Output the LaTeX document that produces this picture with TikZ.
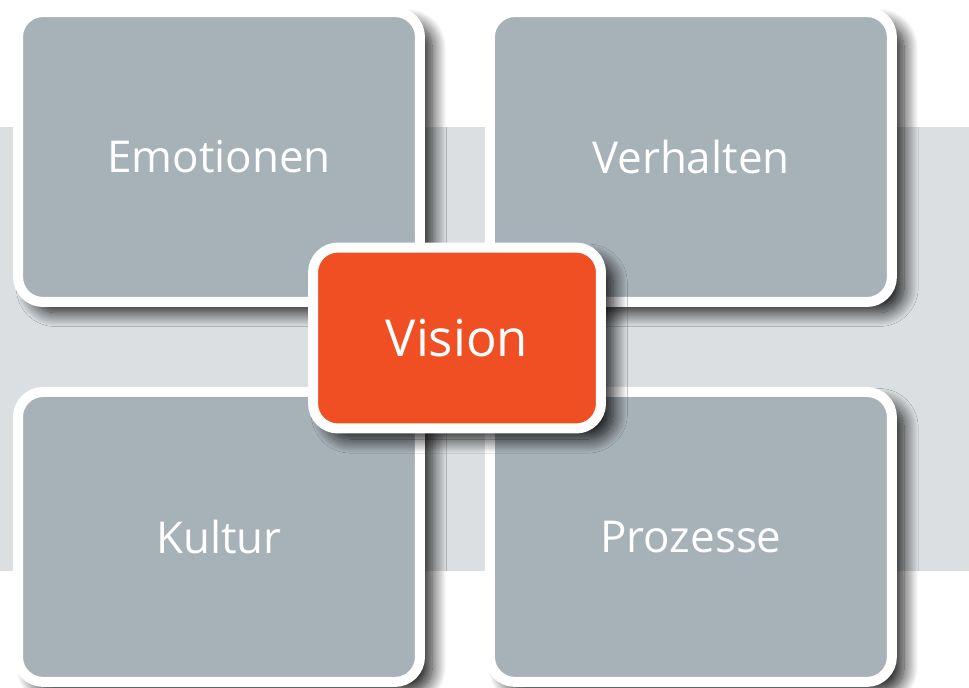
\documentclass[tikz,border=0pt]{standalone}
\usepackage{fontspec}
\setmainfont{Open Sans}
\usetikzlibrary{positioning}
\usetikzlibrary{shadows.blur}

\definecolor{bandgray}{RGB}{219,223,226}
\definecolor{fieldgray}{RGB}{167,177,184}
\definecolor{visionred}{RGB}{240,78,35}

\begin{document}
\begin{tikzpicture}[x=0.02cm, y=-0.02cm]
    \tikzstyle{field}=[draw=white, line width=0.2cm, fill=fieldgray, rounded corners=0.5cm,
      minimum width=8.04cm, minimum height=5.8cm, inner sep=0pt, text=white,
      font=\fontsize{25}{25}\selectfont,
      blur shadow={shadow xshift=7pt, shadow yshift=-6pt, shadow blur radius=8pt,
        shadow blur steps=20, shadow opacity=90}]
    \tikzstyle{core}=[field, fill=visionred, minimum width=5.76cm, minimum height=3.62cm,
      font=\fontsize{29}{29}\selectfont]

    \useasboundingbox (0,0) rectangle (969,687);

    % Background band
    \fill[bandgray] (0,127) rectangle (969,571);

    % Four fields
    \node[field] (emo) at (219,157) {Emotionen};
    \node[field, right=1.2cm of emo] (verh) {Verhalten};
    \node[field, below=1.6cm of emo] (kult) {Kultur};
    \node[field, below=1.6cm of verh] (proz) {Prozesse};

    % Vision in the middle
    \node[core] (vision) at (457,338) {Vision};
\end{tikzpicture}
\end{document}
